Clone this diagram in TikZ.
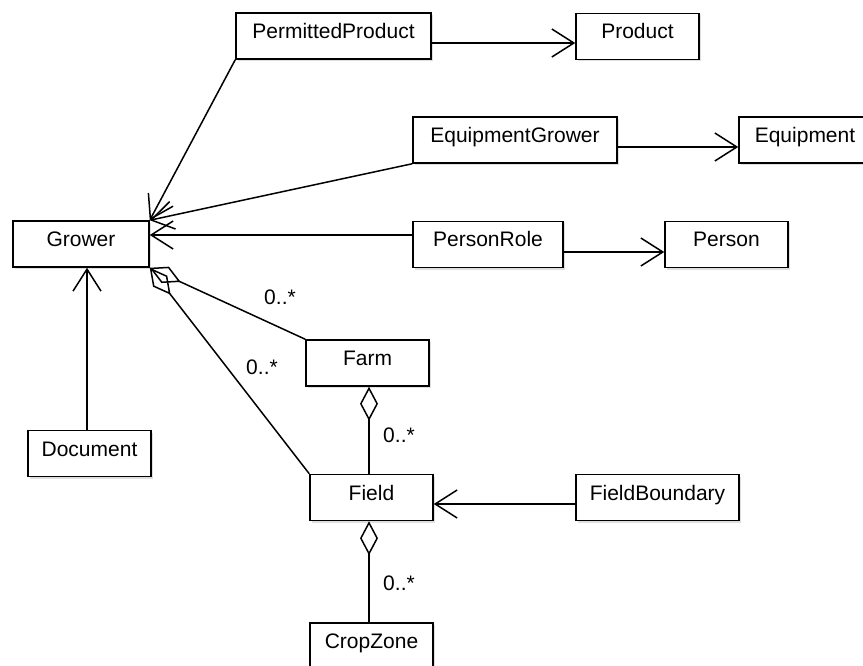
\documentclass[tikz,border=0pt]{standalone}
\usepackage{fontspec}
\setmainfont{Liberation Sans}
\usetikzlibrary{arrows.meta,shadows}
\begin{document}
\begin{tikzpicture}[x=1pt,y=-1pt,
  cls/.style={draw, line width=1.5pt, fill=white, inner sep=0pt, minimum height=46pt,
    font=\fontsize{21}{25}\selectfont, text height=15pt, text depth=10pt,
    drop shadow={shadow xshift=2pt,shadow yshift=-2pt,opacity=0.25}},
  lnk/.style={line width=1.5pt},
  nav/.style={lnk, -{Straight Barb[length=22pt,width=28pt]}},
  agg/.style={lnk, {Diamond[open,length=34pt,width=18pt]}-},
  mult/.style={font=\fontsize{21}{25}\selectfont, inner sep=0pt}
]
\useasboundingbox (0,0) rectangle (863,666);
\clip (0,0) rectangle (863,666);

\node[cls, minimum width=195pt] (pp) at (333.5,36) {PermittedProduct};
\node[cls, minimum width=123pt] (product) at (637.5,36.5) {Product};
\node[cls, minimum width=204pt] (eg) at (515,140) {EquipmentGrower};
\node[cls, minimum width=132pt] (equip) at (805,140) {Equipment};
\node[cls, minimum width=136pt] (grower) at (81,244) {Grower};
\node[cls, minimum width=150pt] (pr) at (488,244.5) {PersonRole};
\node[cls, minimum width=123pt] (person) at (726.5,244.5) {Person};
\node[cls, minimum width=123pt] (farm) at (367.5,363) {Farm};
\node[cls, minimum width=123pt] (field) at (371.5,497.5) {Field};
\node[cls, minimum width=163pt] (fb) at (657.5,497.5) {FieldBoundary};
\node[cls, minimum width=123pt] (crop) at (371.5,646) {CropZone};
\node[cls, minimum width=123pt] (doc) at (89.5,453.5) {Document};

\coordinate (ppy) at (0,43);
\draw[nav] (pp.east |- ppy) -- (product.west |- ppy);
\draw[nav] (pp.south west) -- (grower.north east);
\coordinate (egy) at (0,147);
\draw[nav] (eg.east |- egy) -- (equip.west |- egy);
\draw[nav] (eg.south west) -- (grower.north east);
\coordinate (prl) at (0,235);
\coordinate (prr) at (0,252);
\draw[nav] (pr.west |- prl) -- (grower.east |- prl);
\draw[nav] (pr.east |- prr) -- (person.west |- prr);
\coordinate (dx) at (87,0);
\draw[nav] (dx |- doc.north) -- (dx |- grower.south);
\draw[agg] (grower.south east) -- (farm.north west);
\draw[agg] (grower.south east) -- (field.north west);
\coordinate (vx) at (369,0);
\draw[agg] (vx |- farm.south) -- (vx |- field.north);
\draw[agg] (vx |- field.south) -- (vx |- crop.north);
\coordinate (fby) at (0,504);
\draw[nav] (fb.west |- fby) -- (field.east |- fby);

\node[mult] (m1) at (280,297) {0..*};
\node[mult] (m2) at (262,367) {0..*};
\node[mult] (m3) at (399,435) {0..*};
\node[mult] (m4) at (399,583) {0..*};
\end{tikzpicture}
\end{document}
